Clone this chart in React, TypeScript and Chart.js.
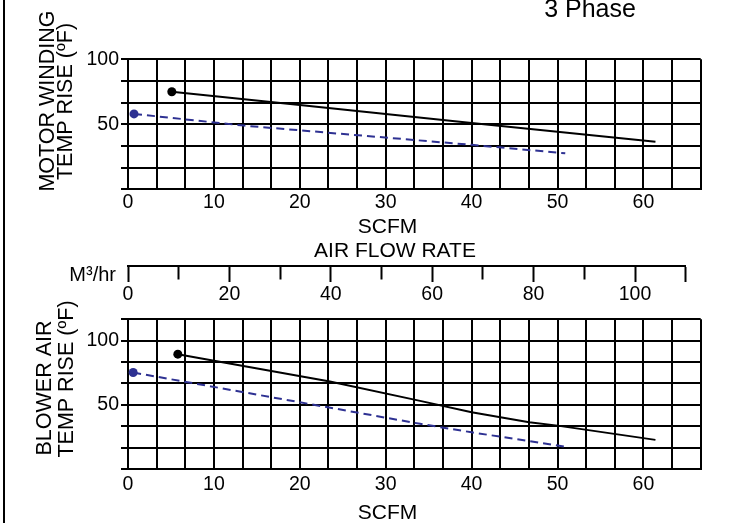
import React, { useEffect, useRef } from "react";
import { Chart, registerables } from "chart.js";

Chart.register(...registerables);

const FONT = '"Liberation Sans", Arial, Helvetica, sans-serif';

// ---- axis ticks / labels ----
const SCFM_GRID = [
  0, 10 / 3, 20 / 3, 10, 40 / 3, 50 / 3, 20, 70 / 3, 80 / 3, 30, 100 / 3,
  110 / 3, 40, 130 / 3, 140 / 3, 50, 160 / 3, 170 / 3, 60, 190 / 3, 200 / 3,
];
const SCFM_LABELS = [0, 10, 20, 30, 40, 50, 60];
const TEMP_GRID_TOP = [0, 50 / 3, 100 / 3, 50, 200 / 3, 250 / 3, 100];
const TEMP_GRID_BOTTOM = [0, 50 / 3, 100 / 3, 50, 200 / 3, 250 / 3, 100, 350 / 3];
const TEMP_LABELS = [50, 100];
const M3_TICKS = [0, 10, 20, 30, 40, 50, 60, 70, 80, 90, 100, 110];
const M3_LABELS = [0, 20, 40, 60, 80, 100];

// ---- series: motor winding temp rise ----
const MOTOR_BLACK_SCFM = [5.1, 20, 40, 61.4];
const MOTOR_BLACK_TEMP = [75, 64.8, 51, 36.6];
const MOTOR_BLUE_SCFM = [0.7, 13.5, 40, 50.9];
const MOTOR_BLUE_TEMP = [58, 49, 34.2, 27.7];

// ---- series: blower air temp rise ----
const BLOWER_BLACK_SCFM = [5.8, 23.5, 34, 40, 46.7, 50, 61.4];
const BLOWER_BLACK_TEMP = [89.5, 68.2, 53.1, 44.3, 36.5, 33.8, 22.7];
const BLOWER_BLUE_SCFM = [0.6, 20, 34, 40, 50.9];
const BLOWER_BLUE_TEMP = [75.2, 52, 35.2, 28.6, 17.4];

const BLACK = "#000000";
const BLUE = "#2e3192";

const pts = (xs: number[], ys: number[]) => xs.map((x, i) => ({ x, y: ys[i] }));

const labelFor = (v: number, labels: number[]) =>
  labels.some((l) => Math.abs(l - v) < 1e-6) ? String(Math.round(v)) : "";

type TextItem = {
  text: string;
  x: number;
  y: number;
  size: number;
  rotate?: boolean;
  align?: CanvasTextAlign;
};

const textPlugin = (id: string, items: TextItem[]) => ({
  id,
  afterDraw(chart: any) {
    const ctx = chart.ctx as CanvasRenderingContext2D;
    items.forEach((it) => {
      ctx.save();
      ctx.font = `${it.size}px ${FONT}`;
      ctx.fillStyle = "#000";
      ctx.textAlign = it.align ?? "center";
      ctx.textBaseline = "middle";
      ctx.translate(it.x, it.y);
      if (it.rotate) ctx.rotate(-Math.PI / 2);
      ctx.fillText(it.text, 0, 0);
      ctx.restore();
    });
  },
});

const tickFont = { family: FONT, size: 19.5, lineHeight: 1 };

const lineDs = (xs: number[], ys: number[], color: string, dashed: boolean) => ({
  data: pts(xs, ys),
  borderColor: color,
  backgroundColor: color,
  borderWidth: 2,
  borderDash: dashed ? [8, 5] : [],
  tension: 0,
  pointRadius: (c: any) => (c.dataIndex === 0 ? 4.5 : 0),
  pointBorderWidth: 0,
  pointBackgroundColor: color,
  fill: false,
});

const gridChartConfig = (
  datasets: any[],
  yMax: number,
  yGrid: number[],
  padTop: number,
  xAxisHeight: number,
  xPad: number,
  texts: TextItem[],
  id: string
) => ({
  type: "line" as const,
  data: { datasets },
  options: {
    responsive: false,
    animation: false as const,
    events: [],
    layout: { padding: { left: 0, right: 34.3, top: padTop, bottom: 0 } },
    plugins: {
      legend: { display: false },
      tooltip: { enabled: false },
      title: { display: false },
    },
    scales: {
      x: {
        type: "linear" as const,
        min: 0,
        max: 200 / 3,
        afterBuildTicks: (s: any) => {
          s.ticks = SCFM_GRID.map((v) => ({ value: v }));
        },
        afterFit: (s: any) => {
          s.height = xAxisHeight;
        },
        grid: { color: "#000", lineWidth: 2, drawTicks: false },
        border: { display: true, color: "#000", width: 2 },
        ticks: {
          padding: xPad,
          color: "#000",
          font: tickFont,
          maxRotation: 0,
          minRotation: 0,
          autoSkip: false,
          callback: (v: any) => labelFor(Number(v), SCFM_LABELS),
        },
      },
      y: {
        type: "linear" as const,
        min: 0,
        max: yMax,
        afterBuildTicks: (s: any) => {
          s.ticks = yGrid.map((v) => ({ value: v }));
        },
        afterFit: (s: any) => {
          s.width = 128;
        },
        grid: {
          color: "#000",
          lineWidth: 2,
          drawTicks: true,
          tickLength: 7,
          tickColor: "#000",
          tickWidth: 2,
        },
        border: { display: true, color: "#000", width: 2 },
        ticks: {
          padding: 2,
          color: "#000",
          font: tickFont,
          autoSkip: false,
          callback: (v: any) => labelFor(Number(v), TEMP_LABELS),
        },
      },
    },
  },
  plugins: [textPlugin(id, texts)],
});

const TOP_TEXTS: TextItem[] = [
  { text: "3 Phase", x: 590, y: 10, size: 25 },
  { text: "MOTOR WINDING", x: 48.5, y: 101, size: 21.5, rotate: true },
  { text: "TEMP RISE (ºF)", x: 66.5, y: 101.5, size: 21.5, rotate: true },
  { text: "SCFM", x: 387.5, y: 227, size: 21 },
  { text: "AIR FLOW RATE", x: 395, y: 250.8, size: 21 },
];

const BOTTOM_TEXTS: TextItem[] = [
  { text: "BLOWER AIR", x: 45, y: 92, size: 21.5, rotate: true },
  { text: "TEMP RISE (ºF)", x: 67, y: 83, size: 21.5, rotate: true },
  { text: "SCFM", x: 387.5, y: 217, size: 21 },
];

const M3_TEXTS: TextItem[] = [{ text: "M³/hr", x: 116, y: 25, size: 20, align: "right" }];

export default function App() {
  const topRef = useRef<HTMLCanvasElement>(null);
  const midRef = useRef<HTMLCanvasElement>(null);
  const botRef = useRef<HTMLCanvasElement>(null);

  useEffect(() => {
    const top = new Chart(
      topRef.current as HTMLCanvasElement,
      gridChartConfig(
        [
          lineDs(MOTOR_BLACK_SCFM, MOTOR_BLACK_TEMP, BLACK, false),
          lineDs(MOTOR_BLUE_SCFM, MOTOR_BLUE_TEMP, BLUE, true),
        ],
        100,
        TEMP_GRID_TOP,
        59.3,
        262 - 189.3,
        4,
        TOP_TEXTS,
        "topText"
      ) as any
    );

    const bottom = new Chart(
      botRef.current as HTMLCanvasElement,
      gridChartConfig(
        [
          lineDs(BLOWER_BLACK_SCFM, BLOWER_BLACK_TEMP, BLACK, false),
          lineDs(BLOWER_BLUE_SCFM, BLOWER_BLUE_TEMP, BLUE, true),
        ],
        350 / 3,
        TEMP_GRID_BOTTOM,
        23.3,
        227 - 173,
        6,
        BOTTOM_TEXTS,
        "bottomText"
      ) as any
    );

    const mid = new Chart(midRef.current as HTMLCanvasElement, {
      type: "line",
      data: { datasets: [] },
      options: {
        responsive: false,
        animation: false,
        events: [],
        layout: { padding: { left: 128, right: 49.3, top: 0, bottom: 0 } },
        plugins: { legend: { display: false }, tooltip: { enabled: false } },
        scales: {
          x: {
            type: "linear",
            position: "bottom",
            min: 0,
            max: 110,
            afterBuildTicks: (s: any) => {
              s.ticks = M3_TICKS.map((v) => ({ value: v }));
            },
            afterFit: (s: any) => {
              s.height = 60 - 16;
            },
            grid: {
              drawOnChartArea: false,
              drawTicks: true,
              tickLength: 16,
              tickWidth: 2,
              tickColor: "#000",
              tickBorderDash: (c: any) =>
                c.tick && M3_LABELS.indexOf(c.tick.value) === -1 && c.tick.value !== 110
                  ? [12.5, 60]
                  : [],
            } as any,
            border: { display: true, color: "#000", width: 2 },
            ticks: {
              padding: 2.75,
              color: "#000",
              font: tickFont,
              maxRotation: 0,
              minRotation: 0,
              autoSkip: false,
              callback: (v: any) => labelFor(Number(v), M3_LABELS),
            },
          },
          y: { display: false, min: 0, max: 1 },
        },
      },
      plugins: [textPlugin("m3Text", M3_TEXTS)],
    } as any);

    return () => {
      top.destroy();
      bottom.destroy();
      mid.destroy();
    };
  }, []);

  return (
    <div
      style={{
        position: "absolute",
        left: 0,
        top: 0,
        width: 735,
        height: 523,
        background: "#fff",
        overflow: "hidden",
      }}
    >
      <div
        style={{
          position: "absolute",
          left: 3,
          top: 0,
          width: 2,
          height: 523,
          background: "#000",
        }}
      />
      <canvas
        ref={topRef}
        width={735}
        height={262}
        style={{ position: "absolute", left: 0, top: 0 }}
      />
      <canvas
        ref={midRef}
        width={735}
        height={60}
        style={{ position: "absolute", left: 0, top: 250 }}
      />
      <canvas
        ref={botRef}
        width={735}
        height={227}
        style={{ position: "absolute", left: 0, top: 296 }}
      />
    </div>
  );
}
